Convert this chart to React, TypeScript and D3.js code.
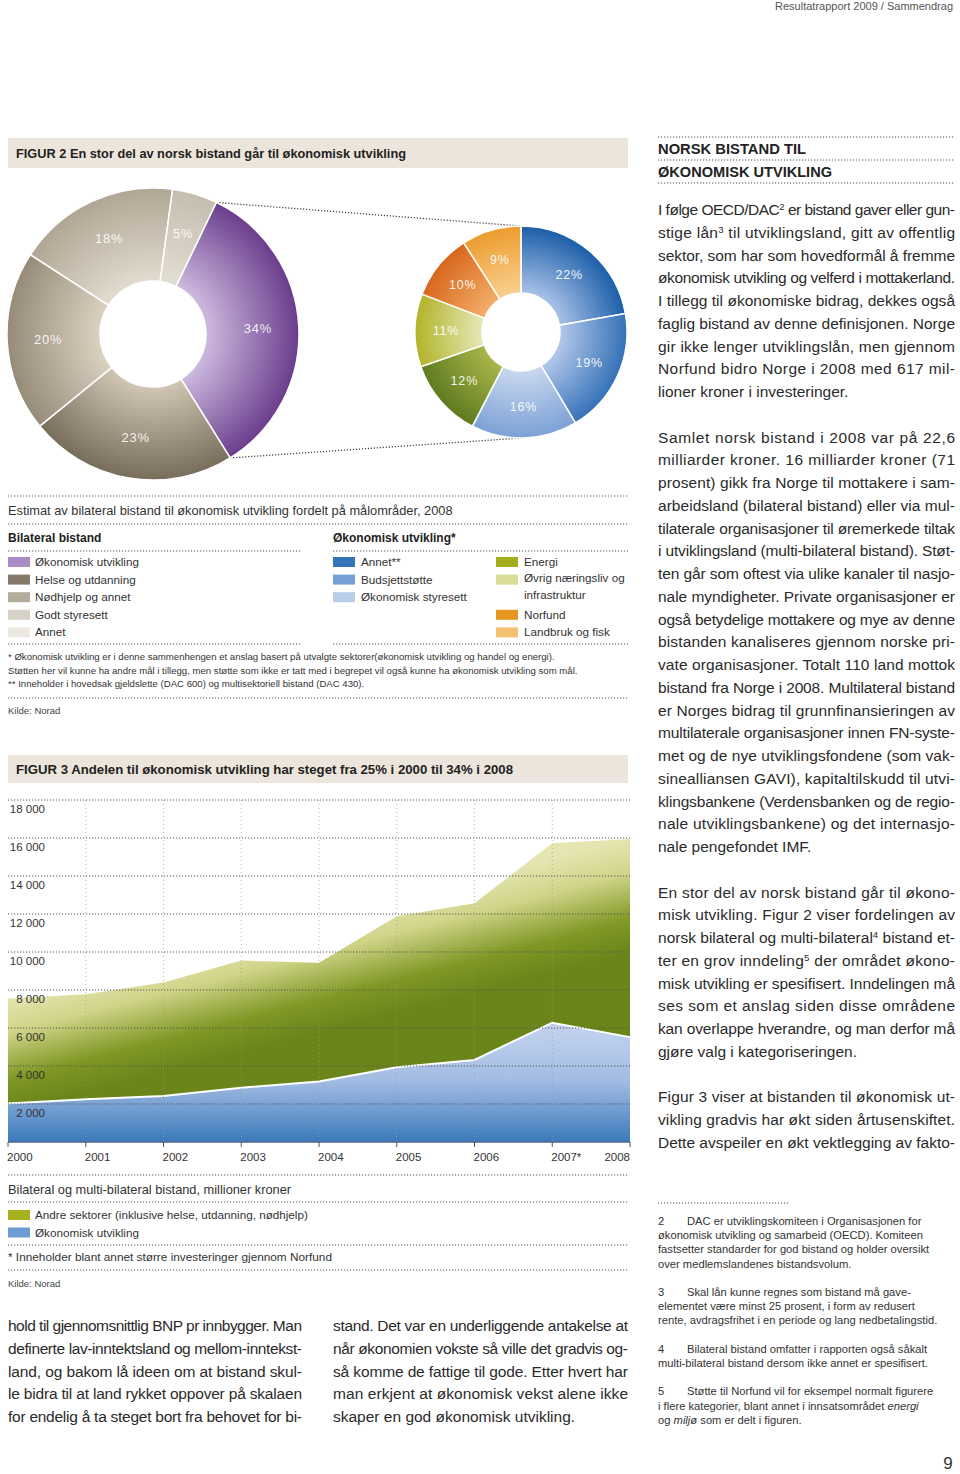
import React from "react";
import * as d3 from "d3";

// ---------- DATA ----------
const bilateralLabels = ["Økonomisk utvikling", "Helse og utdanning", "Nødhjelp og annet", "Godt styresett", "Annet"];
const bilateralShares = [34, 23, 20, 18, 5];

const okonomiskLabels = ["Annet**", "Budsjettstøtte", "Økonomisk styresett", "Energi", "Øvrig næringsliv og|infrastruktur", "Norfund", "Landbruk og fisk"];
const okonomiskShares = [22, 19, 16, 12, 11, 10, 9];

const years = ["2000", "2001", "2002", "2003", "2004", "2005", "2006", "2007*", "2008"];
const okonomiskUtvikling = [2030, 2250, 2420, 2860, 3180, 3930, 4320, 6280, 5520];
const andreSektorer = [5520, 5520, 5970, 6690, 6250, 7950, 8250, 9450, 10430];
const yTicks = [2000, 4000, 6000, 8000, 10000, 12000, 14000, 16000, 18000];

const fig3Legend = ["Andre sektorer (inklusive helse, utdanning, nødhjelp)", "Økonomisk utvikling"];

// ---------- TEXT ----------
const para1 = [
  "I følge OECD/DAC{2} er bistand gaver eller gun-",
  "stige lån{3} til utviklingsland, gitt av offentlig",
  "sektor, som har som hovedformål å fremme",
  "økonomisk utvikling og velferd i mottakerland.",
  "I tillegg til økonomiske bidrag, dekkes også",
  "faglig bistand av denne definisjonen. Norge",
  "gir ikke lenger utviklingslån, men gjennom",
  "Norfund bidro Norge i 2008 med 617 mil-",
  "lioner kroner i investeringer.",
];
const para2 = [
  "Samlet norsk bistand i 2008 var på 22,6",
  "milliarder kroner. 16 milliarder kroner (71",
  "prosent) gikk fra Norge til mottakere i sam-",
  "arbeidsland (bilateral bistand) eller via mul-",
  "tilaterale organisasjoner til øremerkede tiltak",
  "i utviklingsland (multi-bilateral bistand). Støt-",
  "ten går som oftest via ulike kanaler til nasjo-",
  "nale myndigheter. Private organisasjoner er",
  "også betydelige mottakere og mye av denne",
  "bistanden kanaliseres gjennom norske pri-",
  "vate organisasjoner. Totalt 110 land mottok",
  "bistand fra Norge i 2008. Multilateral bistand",
  "er Norges bidrag til grunnfinansieringen av",
  "multilaterale organisasjoner innen FN-syste-",
  "met og de nye utviklingsfondene (som vak-",
  "sinealliansen GAVI), kapitaltilskudd til utvi-",
  "klingsbankene (Verdensbanken og de regio-",
  "nale utviklingsbankene) og det internasjo-",
  "nale pengefondet IMF.",
];
const para3 = [
  "En stor del av norsk bistand går til økono-",
  "misk utvikling. Figur 2 viser fordelingen av",
  "norsk bilateral og multi-bilateral{4} bistand et-",
  "ter en grov inndeling{5} der området økono-",
  "misk utvikling er spesifisert. Inndelingen må",
  "ses som et anslag siden disse områdene",
  "kan overlappe hverandre, og man derfor må",
  "gjøre valg i kategoriseringen.",
];
const para4 = [
  "Figur 3 viser at bistanden til økonomisk ut-",
  "vikling gradvis har økt siden årtusenskiftet.",
  "Dette avspeiler en økt vektlegging av fakto-",
];
const bottomLeft = [
  "hold til gjennomsnittlig BNP pr innbygger. Man",
  "definerte lav-inntektsland og mellom-inntekst-",
  "land, og bakom lå ideen om at bistand skul-",
  "le bidra til at land rykket oppover på skalaen",
  "for endelig å ta steget bort fra behovet for bi-",
];
const bottomRight = [
  "stand. Det var en underliggende antakelse at",
  "når økonomien vokste så ville det gradvis og-",
  "så komme de fattige til gode. Etter hvert har",
  "man erkjent at økonomisk vekst alene ikke",
  "skaper en god økonomisk utvikling.",
];
const footnotes = [
  { n: "2", lines: ["DAC er utviklingskomiteen i Organisasjonen for", "økonomisk utvikling og samarbeid (OECD). Komiteen", "fastsetter standarder for god bistand og holder oversikt", "over medlemslandenes bistandsvolum."] },
  { n: "3", lines: ["Skal lån kunne regnes som bistand må gave-", "elementet være minst 25 prosent, i form av redusert", "rente, avdragsfrihet i en periode og lang nedbetalingstid."] },
  { n: "4", lines: ["Bilateral bistand omfatter i rapporten også såkalt", "multi-bilateral bistand dersom ikke annet er spesifisert."] },
  { n: "5", lines: ["Støtte til Norfund vil for eksempel normalt figurere", "i flere kategorier, blant annet i innsatsområdet _energi_", "og _miljø_ som er delt i figuren."] },
];
const fig2Notes = [
  "* Økonomisk utvikling er i denne sammenhengen et anslag basert på utvalgte sektorer(økonomisk utvikling og handel og energi).",
  "Støtten her vil kunne ha andre mål i tillegg, men støtte som ikke er tatt med i begrepet vil også kunne ha økonomisk utvikling som mål.",
  "** Inneholder i hovedsak gjeldslette (DAC 600) og multisektoriell bistand (DAC 430).",
];

// ---------- STYLES ----------
const FONT = "'Liberation Sans', Arial, sans-serif";
const TXT = "#333";
const bilateralSwatch = ["#a98cc4", "#85796a", "#b3ab9b", "#d8d2c6", "#ece8e0"];
const bilateralGrad = [
  ["#cdbadf", "#6a3d8c"],
  ["#d0c6b3", "#786c5a"],
  ["#dad1c1", "#978b78"],
  ["#e2dbcf", "#b0a694"],
  ["#e3ded3", "#c5bdaf"],
];
const okSwatch = ["#3574b8", "#74a0d4", "#b9cde9", "#a6ad1c", "#d9dc94", "#e6961e", "#f3c170"];
const okGrad = [
  ["#a9c2e8", "#1b5ea8"],
  ["#b3c8ea", "#3471b7"],
  ["#c8d8f0", "#7ca1d5"],
  ["#aab64a", "#5d7b20"],
  ["#e6e8b8", "#b1b428"],
  ["#f3ae6a", "#d8661c"],
  ["#f9d090", "#ec9c2e"],
];
const fig3Swatch = ["#a9b01f", "#6f9bd5"];

function rich(s: string) {
  const parts = s.split(/(\{\d\}|_[^_]+_)/).filter((p) => p !== "");
  return parts.map((p, i) => {
    if (/^\{\d\}$/.test(p))
      return (
        <tspan key={i} baselineShift="super" fontSize="0.62em">
          {p[1]}
        </tspan>
      );
    if (/^_.*_$/.test(p))
      return (
        <tspan key={i} fontStyle="italic">
          {p.slice(1, -1)}
        </tspan>
      );
    return <tspan key={i}>{p}</tspan>;
  });
}

function Para({ lines, x, y0, lh, width, size, lastJustified = false }: any) {
  return (
    <g>
      {lines.map((ln: string, i: number) => {
        const justify = i < lines.length - 1 || lastJustified;
        return (
          <text
            key={i}
            x={x}
            y={y0 + i * lh}
            fontSize={size}
            fill="#2a2a2a"
            textLength={justify ? width : undefined}
            lengthAdjust="spacing"
          >
            {rich(ln)}
          </text>
        );
      })}
    </g>
  );
}

function Dots({ x1, x2, y }: any) {
  return <line x1={x1} x2={x2} y1={y} y2={y} stroke="#555" strokeWidth={1.2} strokeDasharray="1.2 1.8" />;
}

export default function App() {
  // Donut 1
  const d1 = { cx: 153, cy: 334, r0: 53, r1: 146 };
  const a1Start = (25.7 * Math.PI) / 180;
  const pie1 = d3.pie<number>().sort(null).value((d) => d).startAngle(a1Start).endAngle(a1Start + 2 * Math.PI);
  const arcs1 = pie1(bilateralShares);
  const arc1 = d3.arc<any>().innerRadius(d1.r0).outerRadius(d1.r1);
  const lab1 = d3.arc<any>().innerRadius(105).outerRadius(105);

  // Donut 2
  const d2 = { cx: 521, cy: 332, r0: 39, r1: 106 };
  const pie2 = d3.pie<number>().sort(null).value((d) => d);
  const arcs2 = pie2(okonomiskShares);
  const arc2 = d3.arc<any>().innerRadius(d2.r0).outerRadius(d2.r1);
  const lab2 = d3.arc<any>().innerRadius(75).outerRadius(75);

  const pt = (c: any, a: number) => [c.cx + c.r1 * Math.sin(a), c.cy - c.r1 * Math.cos(a)];
  const p1a = pt(d1, arcs1[0].startAngle);
  const p1b = pt(d1, arcs1[0].endAngle);
  const p2a = pt(d2, 0);
  const p2b = pt(d2, Math.PI);

  // Figure 3
  const x = d3.scalePoint<string>().domain(years).range([8, 630]);
  const y = d3.scaleLinear().domain([0, 18000]).range([1142, 800]);
  const rows = years.map((yr, i) => ({ yr, ok: okonomiskUtvikling[i], andre: andreSektorer[i] }));
  const stack = d3.stack<any>().keys(["ok", "andre"])(rows);
  const area = d3
    .area<any>()
    .x((d: any) => x(d.data.yr) as number)
    .y0((d: any) => y(d[0]))
    .y1((d: any) => y(d[1]));
  const okLine = d3
    .line<any>()
    .x((d: any) => x(d.data.yr) as number)
    .y((d: any) => y(d[1]));

  // gradient geometry for green area
  const gx1 = x(years[0]) as number;
  const gy1 = y(okonomiskUtvikling[0] + andreSektorer[0]);
  const gxe = x(years[years.length - 1]) as number;
  const gye = y(okonomiskUtvikling[8] + andreSektorer[8]);
  const dx = gxe - gx1, dy = gye - gy1;
  const len = Math.hypot(dx, dy);
  const nx = -dy / len, ny = dx / len;
  const gLen = 110;

  const legRow = (i: number) => 562 + i * 17.6;

  return (
    <svg width={960} height={1474} style={{ position: "absolute", left: 0, top: 0, background: "#fff" }} fontFamily={FONT}>
      <defs>
        {bilateralGrad.map((g, i) => (
          <radialGradient key={i} id={`g1_${i}`} gradientUnits="userSpaceOnUse" cx={0} cy={0} r={d1.r1}>
            <stop offset={d1.r0 / d1.r1} stopColor={g[0]} />
            <stop offset={1} stopColor={g[1]} />
          </radialGradient>
        ))}
        {okGrad.map((g, i) => (
          <radialGradient key={i} id={`g2_${i}`} gradientUnits="userSpaceOnUse" cx={0} cy={0} r={d2.r1}>
            <stop offset={d2.r0 / d2.r1} stopColor={g[0]} />
            <stop offset={1} stopColor={g[1]} />
          </radialGradient>
        ))}
        <linearGradient id="green" gradientUnits="userSpaceOnUse" x1={gx1} y1={gy1} x2={gx1 + nx * gLen} y2={gy1 + ny * gLen}>
          <stop offset={0} stopColor="#e4e5b0" />
          <stop offset={0.3} stopColor="#d0d488" />
          <stop offset={0.72} stopColor="#7f9724" />
          <stop offset={1} stopColor="#6a861b" />
        </linearGradient>
        <linearGradient id="blue" gradientUnits="userSpaceOnUse" x1={0} y1={1020} x2={0} y2={1142}>
          <stop offset={0} stopColor="#c6d5ef" />
          <stop offset={0.5} stopColor="#a2bce3" />
          <stop offset={1} stopColor="#3a79ba" />
        </linearGradient>
      </defs>

      {/* page header */}
      <text x={953} y={10} fontSize={11} fill="#555" textAnchor="end">
        Resultatrapport 2009 / Sammendrag
      </text>

      {/* FIGURE 2 title */}
      <rect x={8} y={138} width={620} height={30} fill="#ece5db" />
      <text x={16} y={158} fontSize={13.5} fontWeight="bold" fill="#222" textLength={390} lengthAdjust="spacingAndGlyphs">
        FIGUR 2 En stor del av norsk bistand går til økonomisk utvikling
      </text>

      {/* connector dotted lines */}
      <line x1={p1a[0]} y1={p1a[1]} x2={p2a[0]} y2={p2a[1]} stroke="#444" strokeWidth={1.3} strokeDasharray="1.2 1.8" />
      <line x1={p1b[0]} y1={p1b[1]} x2={p2b[0]} y2={p2b[1]} stroke="#444" strokeWidth={1.3} strokeDasharray="1.2 1.8" />

      {/* donut 1 */}
      <g transform={`translate(${d1.cx},${d1.cy})`}>
        {arcs1.map((a, i) => (
          <path key={i} d={arc1(a) as string} fill={`url(#g1_${i})`} stroke="#fff" strokeWidth={1.5} />
        ))}
        {arcs1.map((a, i) => {
          const c = lab1.centroid(a);
          return (
            <text key={i} x={c[0]} y={c[1]} fontSize={13} fill="#fff" fillOpacity={0.9} textAnchor="middle" dominantBaseline="central" letterSpacing={0.8}>
              {bilateralShares[i]}%
            </text>
          );
        })}
      </g>
      {/* donut 2 */}
      <g transform={`translate(${d2.cx},${d2.cy})`}>
        {arcs2.map((a, i) => (
          <path key={i} d={arc2(a) as string} fill={`url(#g2_${i})`} stroke="#fff" strokeWidth={1.5} />
        ))}
        {arcs2.map((a, i) => {
          const c = lab2.centroid(a);
          return (
            <text key={i} x={c[0]} y={c[1]} fontSize={12.5} fill="#fff" fillOpacity={0.92} textAnchor="middle" dominantBaseline="central" letterSpacing={0.8}>
              {okonomiskShares[i]}%
            </text>
          );
        })}
      </g>

      {/* Figure 2 legend */}
      <Dots x1={8} x2={628} y={496} />
      <text x={8} y={515} fontSize={12.8} fill={TXT}>
        Estimat av bilateral bistand til økonomisk utvikling fordelt på målområder, 2008
      </text>
      <Dots x1={8} x2={628} y={524} />
      <text x={8} y={542} fontSize={12} fontWeight="bold" fill="#222">
        Bilateral bistand
      </text>
      <text x={333} y={542} fontSize={12} fontWeight="bold" fill="#222">
        Økonomisk utvikling*
      </text>
      <Dots x1={8} x2={302} y={551} />
      <Dots x1={333} x2={628} y={551} />
      {bilateralLabels.map((l, i) => (
        <g key={i}>
          <rect x={8} y={legRow(i) - 5} width={22} height={10} fill={bilateralSwatch[i]} />
          <text x={35} y={legRow(i) + 4} fontSize={11.7} fill={TXT}>
            {l}
          </text>
        </g>
      ))}
      {okonomiskLabels.map((l, i) => {
        const col = i < 3 ? 0 : 1;
        const row = i < 3 ? i : [0, 1, 3, 4][i - 3];
        const sx = col === 0 ? 333 : 496;
        const ry = legRow(row);
        const parts = l.split("|");
        return (
          <g key={i}>
            <rect x={sx} y={ry - 5} width={22} height={10} fill={okSwatch[i]} />
            {parts.map((p, j) => (
              <text key={j} x={sx + 28} y={ry + 4 - (parts.length > 1 ? 2 : 0) + j * 17} fontSize={11.7} fill={TXT}>
                {p}
              </text>
            ))}
          </g>
        );
      })}
      <Dots x1={8} x2={302} y={644} />
      <Dots x1={333} x2={628} y={644} />
      {fig2Notes.map((n, i) => (
        <text key={i} x={8} y={660 + i * 13.5} fontSize={9.6} fill={TXT}>
          {n}
        </text>
      ))}
      <Dots x1={8} x2={628} y={698} />
      <text x={8} y={714} fontSize={9.5} fill="#444">
        Kilde: Norad
      </text>

      {/* FIGURE 3 title */}
      <rect x={8} y={755} width={620} height={28} fill="#ece5db" />
      <text x={16} y={774} fontSize={13.5} fontWeight="bold" fill="#222" textLength={497} lengthAdjust="spacingAndGlyphs">
        FIGUR 3 Andelen til økonomisk utvikling har steget fra 25% i 2000 til 34% i 2008
      </text>

      {/* Figure 3 chart */}
      <path d={area(stack[1] as any) as string} fill="url(#green)" />
      <path d={area(stack[0] as any) as string} fill="url(#blue)" />
      <path d={okLine(stack[0] as any) as string} fill="none" stroke="#fff" strokeWidth={2} />
      {years.slice(1, -1).map((yr) => (
        <line key={yr} x1={x(yr)} x2={x(yr)} y1={800} y2={1142} stroke="#999" strokeOpacity={0.7} strokeWidth={1} strokeDasharray="1 3" />
      ))}
      {yTicks.map((t) => (
        <g key={t}>
          <Dots x1={8} x2={630} y={y(t)} />
          <text x={45} y={y(t) + 13} fontSize={11.5} fill="#333" textAnchor="end">
            {d3.format(",")(t).replace(",", " ")}
          </text>
        </g>
      ))}
      <line x1={8} x2={630} y1={1142} y2={1142} stroke="#4a6a90" strokeWidth={1.5} />
      {years.map((yr) => (
        <line key={yr} x1={x(yr)} x2={x(yr)} y1={1142} y2={1147} stroke="#555" strokeWidth={1} />
      ))}
      {years.map((yr, i) => (
        <text
          key={yr}
          x={(x(yr) as number) + (i === years.length - 1 ? 0 : -1)}
          y={1161}
          fontSize={11.5}
          fill="#333"
          textAnchor={i === years.length - 1 ? "end" : "start"}
        >
          {yr}
        </text>
      ))}
      <Dots x1={8} x2={628} y={1175} />
      <text x={8} y={1194} fontSize={12.8} fill={TXT}>
        Bilateral og multi-bilateral bistand, millioner kroner
      </text>
      <Dots x1={8} x2={628} y={1202} />
      {fig3Legend.map((l, i) => (
        <g key={i}>
          <rect x={8} y={1210 + i * 17.5} width={22} height={10} fill={fig3Swatch[i]} />
          <text x={35} y={1219 + i * 17.5} fontSize={11.7} fill={TXT}>
            {l}
          </text>
        </g>
      ))}
      <Dots x1={8} x2={628} y={1245} />
      <text x={8} y={1261} fontSize={11.8} fill={TXT}>
        * Inneholder blant annet større investeringer gjennom Norfund
      </text>
      <Dots x1={8} x2={628} y={1270} />
      <text x={8} y={1287} fontSize={9.5} fill="#444">
        Kilde: Norad
      </text>

      {/* bottom columns */}
      <Para lines={bottomLeft} x={8} y0={1331} lh={22.75} width={294} size={15.5} lastJustified />
      <Para lines={bottomRight} x={333} y0={1331} lh={22.75} width={295} size={15.5} />

      {/* right column */}
      <Dots x1={658} x2={955} y={137} />
      <text x={658} y={154} fontSize={14} fontWeight="bold" fill="#222" textLength={148} lengthAdjust="spacingAndGlyphs">
        NORSK BISTAND TIL
      </text>
      <Dots x1={658} x2={955} y={160} />
      <text x={658} y={177} fontSize={14} fontWeight="bold" fill="#222" textLength={174} lengthAdjust="spacingAndGlyphs">
        ØKONOMISK UTVIKLING
      </text>
      <Dots x1={658} x2={955} y={183} />
      <Para lines={para1} x={658} y0={215} lh={22.75} width={297} size={15.5} />
      <Para lines={para2} x={658} y0={215 + 10 * 22.75} lh={22.75} width={297} size={15.5} />
      <Para lines={para3} x={658} y0={215 + 30 * 22.75} lh={22.75} width={297} size={15.5} />
      <Para lines={para4} x={658} y0={215 + 39 * 22.75} lh={22.75} width={297} size={15.5} lastJustified />

      {/* footnotes */}
      <Dots x1={658} x2={790} y={1203} />
      {(() => {
        let n = 0;
        const out: any[] = [];
        footnotes.forEach((f, fi) => {
          f.lines.forEach((ln, li) => {
            const yy = 1225 + n * 14.2;
            if (li === 0)
              out.push(
                <text key={`n${fi}`} x={658} y={yy} fontSize={11.2} fill="#333">
                  {f.n}
                </text>
              );
            out.push(
              <text key={`l${fi}_${li}`} x={li === 0 ? 687 : 658} y={yy} fontSize={11.2} fill="#333">
                {rich(ln)}
              </text>
            );
            n++;
          });
          n++;
        });
        return out;
      })()}

      <text x={948} y={1469} fontSize={17} fill="#333" textAnchor="middle">
        9
      </text>
    </svg>
  );
}
